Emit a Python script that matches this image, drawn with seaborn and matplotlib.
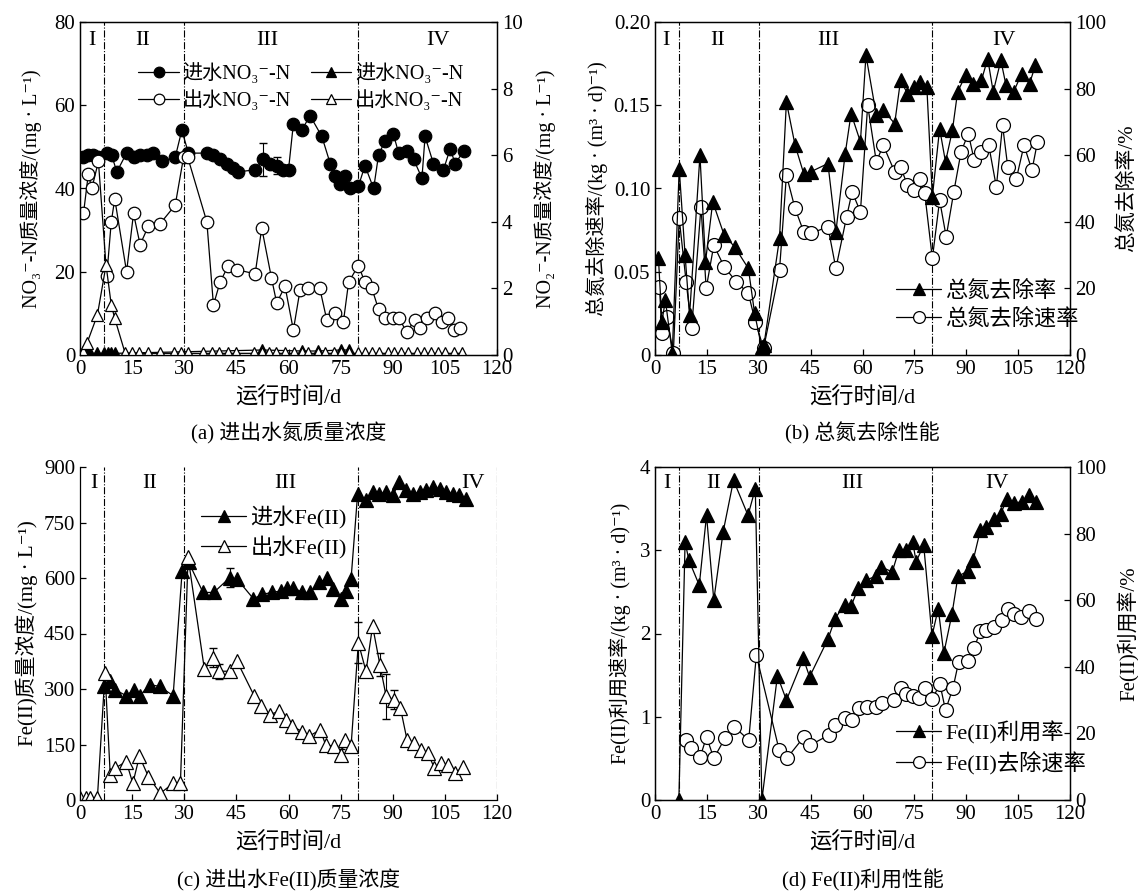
import numpy as np
import matplotlib
matplotlib.use("Agg")
import matplotlib.pyplot as plt
import seaborn as sns

# ---------------- (a) 进出水氮质量浓度 ----------------
a_in_no3_day = [1, 2.4, 3.8, 5.3, 7.7, 9.1, 10.6, 13.4, 15.4, 17.3, 19.2, 21.1, 23.5, 27.4, 29.3,
                31.2, 36.5, 38.4, 40.3, 42.2, 44.1, 45.6, 50.4, 52.8, 54.7, 56.6, 58.5, 60, 61.4,
                63.8, 66.2, 69.6, 72, 73.4, 74.9, 76.3, 77.7, 80.1, 82, 84.5, 85.9, 87.8, 90.2,
                91.7, 94, 96, 98.4, 99.3, 101.7, 104.6, 106.5, 108, 110.4]
a_in_no3 = [47.5, 48, 48, 47.5, 48.5, 48, 44, 48.5, 47.5, 48, 48, 48.5, 46.5, 47.5, 54,
            48.5, 48.5, 48, 47, 46, 45, 44, 44.5, 47, 46, 45.5, 44.5, 44.5, 55.5,
            54, 57.5, 52.5, 46, 43, 41, 43, 40, 40.5, 45.5, 40, 48, 51.5, 53,
            48.5, 49, 47, 42.5, 52.5, 46, 44.5, 49.5, 46, 49]
a_out_no3_day = [1, 2.4, 3.4, 5.3, 7.7, 9, 10, 13.4, 15.4, 17.3, 19.7, 23, 27.4, 29.8, 31,
                 36.5, 38.4, 40.3, 42.7, 45.1, 50.4, 52.3, 55.1, 56.6, 59, 61.4, 63.3, 65.7,
                 69, 71, 73.4, 75.8, 77.3, 80.1, 82, 84, 85.9, 87.8, 90.2, 91.7, 94, 96.4,
                 97.9, 99.8, 102.2, 104.1, 106, 107.5, 109.4]
a_out_no3 = [34, 43.5, 40, 46.5, 19, 32, 37.5, 20, 34, 26.5, 31, 31.5, 36, 47.5, 47.5,
             32, 12, 17.5, 21.5, 20.5, 19.5, 30.5, 18.5, 12.5, 16.5, 6, 15.5, 16,
             16, 8.5, 10, 8, 17.5, 21.5, 17.5, 16, 11, 9, 9, 9, 5.5, 8.5,
             6.5, 9, 10, 8, 9, 6, 6.5]
a_in_no2_day = [1, 2, 3, 5, 7, 8, 9, 10, 52.5, 64, 68.5, 75, 77.5]
a_in_no2 = [0.1, 0.05, 0.05, 0.05, 0.05, 0.05, 0.05, 0.05, 0.15, 0.12, 0.12, 0.15, 0.15]
a_out_no2_day = [1, 2, 5, 7.5, 9, 10, 13, 15, 17, 19.5, 23, 27, 29, 31, 35.5, 38, 40, 42.5, 45,
                 50, 52.5, 54.5, 56.5, 59, 61.5, 64, 65.5, 68.5, 70.5, 73, 75, 77.5, 80, 82,
                 84, 86, 88.5, 90.5, 92.5, 94.5, 97, 99, 101, 103, 105, 107.5, 110]
a_out_no2 = [0.1, 0.35, 1.2, 2.7, 1.5, 1.1, 0.05, 0.05, 0.05, 0.05, 0.05, 0.05, 0.05, 0.05,
             0.05, 0.05, 0.05, 0.05, 0.05, 0.05, 0.05, 0.05, 0.05, 0.05, 0.05, 0.05, 0.05,
             0.05, 0.05, 0.05, 0.05, 0.05, 0.05, 0.05, 0.05, 0.05, 0.05, 0.05, 0.05, 0.05,
             0.05, 0.05, 0.05, 0.05, 0.05, 0.05, 0.05]
# error bars (index into the series, size)
a_in_no3_err_idx = [8, 23, 25, 49]
a_in_no3_err = [1.2, 4.0, 2.0, 1.2]

# ---------------- (b) 总氮去除性能 ----------------
b_rate_day = [1, 2, 3, 5, 7, 8.7, 10, 13, 14.6, 16.7, 20, 23, 27, 28.8, 30.8, 31.5, 36, 38, 40.5,
              43, 45, 50, 52.3, 55, 56.7, 59.4, 61, 64, 66, 69.3, 71, 73, 75, 76.5, 78.6, 80.2,
              82.3, 84, 86, 87.5, 89.8, 92, 94.4, 96.2, 97.8, 100, 101.5, 103.7, 106, 108.3, 110]
b_rate = [29, 10, 16.5, 0.5, 56, 30, 12, 60, 28, 46, 36, 32.5, 26, 12.5, 2.5, 3, 35, 76, 63,
          54.5, 55, 57.5, 37, 60.5, 72.5, 64, 90, 72, 73.5, 69.5, 82.5, 78.5, 80.5, 82, 80.5, 47.5,
          68, 58, 67.5, 79, 84, 81.5, 82.5, 89, 79, 88.5, 81, 79, 84.5, 81.5, 87]
b_speed_day = [1.3, 2, 3.4, 5.3, 7, 9, 10.6, 13.3, 14.8, 17, 20, 23.5, 27, 29, 31.4, 36, 38, 40.5,
               43, 45, 50, 52.3, 55.4, 57, 59.4, 61.5, 64, 66, 69.3, 71, 73, 75, 76.5, 78, 80.2,
               82.3, 84.2, 86.4, 88.5, 90.6, 92.3, 94.4, 96.5, 98.7, 100.5, 102, 104.5, 106.7, 109,
               110.6]
b_speed = [0.041, 0.013, 0.023, 0.001, 0.082, 0.044, 0.016, 0.089, 0.040, 0.066, 0.053, 0.044,
           0.037, 0.020, 0.004, 0.051, 0.108, 0.088, 0.074, 0.073, 0.077, 0.052, 0.083, 0.098,
           0.086, 0.150, 0.116, 0.126, 0.110, 0.113, 0.102, 0.099, 0.106, 0.097, 0.058, 0.093,
           0.071, 0.098, 0.122, 0.133, 0.117, 0.122, 0.126, 0.101, 0.138, 0.113, 0.106, 0.126,
           0.111, 0.128]

# ---------------- (c) 进出水Fe(II)质量浓度 ----------------
c_in_day = [7, 8.7, 10.1, 13.3, 15.4, 17.3, 20, 22.9, 26.8, 29.4, 31.3, 35.4, 38.5, 43.1, 45.2,
            49.9, 52.5, 55.3, 57.7, 59.5, 61.4, 64, 66.2, 68.8, 71.2, 72.7, 75.1, 76.5, 78, 79.9,
            82.3, 84.2, 86.1, 88.1, 90, 91.9, 93.8, 95.8, 97.7, 99.6, 101.5, 103.5, 105.4, 107.3,
            109.2, 111.2]
c_in_fe = [307, 321, 298, 282, 297, 282, 312, 307, 282, 620, 642, 561, 561, 601, 597,
           544, 556, 561, 565, 574, 574, 561, 561, 588, 599, 570, 543, 565, 597, 828,
           810, 832, 828, 832, 823, 859, 837, 828, 832, 837, 846, 841, 832, 828,
           823, 814]
c_out_day = [0, 1.7, 2.9, 5, 7.2, 8.7, 10.1, 13.3, 15.2, 17.1, 19.7, 23.1, 26.8, 28.9, 31.1,
             35.8, 38.3, 40, 43.3, 45.2, 50.2, 52, 54.7, 57.3, 59.2, 61.1, 64, 65.9, 69.1, 70.7,
             73.1, 75.1, 76.3, 78, 80.1, 82.3, 84.2, 86.3, 88.1, 90.3, 92.2, 94.1, 96.1, 98,
             100.1, 102, 103.9, 105.9, 108, 110.2]
c_out_fe = [5, 5, 5, 5, 344, 68, 86, 104, 45, 118, 63, 18, 45, 45, 656,
            353, 385, 348, 348, 375, 280, 253, 231, 240, 217, 199, 185, 172, 190, 149,
            145, 122, 163, 145, 425, 348, 470, 366, 280, 271, 249, 163, 154, 136,
            127, 86, 100, 95, 72, 90]
c_in_err_idx = [13]
c_in_err = [25]
c_out_err_idx = [16, 17, 31, 34, 37, 38, 39]
c_out_err = [25, 20, 15, 55, 30, 60, 25]

# ---------------- (d) Fe(II)利用性能 ----------------
d_use_day = [6.9, 8.7, 9.8, 12.8, 14.9, 17, 19.7, 22.7, 26.9, 29, 30.9, 35.4, 38, 42.9, 44.7,
             50, 52.1, 54.8, 56.7, 58.8, 61, 63.8, 65.4, 68.6, 70.5, 72.7, 74.5, 75.5, 77.7,
             80.1, 81.9, 83.5, 85.9, 87.6, 90.4, 92, 94.1, 95.7, 97.9, 100, 101.8, 103.7, 106.1,
             108, 110.1]
d_use = [0, 77.5, 72, 64.5, 85.5, 60, 80.5, 96, 85.5, 93.5, 0, 37.3, 30, 42.5, 37,
         48.3, 54.5, 58.7, 58.2, 63.7, 66, 67.2, 70, 68.5, 75, 75, 77.6, 71.6, 76.5,
         49.3, 57.5, 44, 56, 67.2, 68.7, 72, 81.1, 82.1, 84.5, 86, 90.5, 89.1, 89.6,
         91.5, 89.6]
d_speed_day = [9, 10.3, 13.1, 14.9, 17, 20.2, 22.9, 27.1, 29.3, 35.9, 38.1, 43.1, 44.9, 50.3,
               52.1, 54.8, 56.9, 59, 61.2, 63.8, 65.6, 69.1, 71.1, 72.7, 74.5, 76.3, 78.2, 80.1,
               82.4, 84, 86.2, 87.8, 90.4, 92.3, 94.1, 95.7, 97.9, 100.3, 102.1, 103.9, 105.9,
               108, 110.1]
d_speed = [0.72, 0.62, 0.52, 0.76, 0.50, 0.74, 0.88, 0.72, 1.74, 0.60, 0.50, 0.76, 0.66, 0.78,
           0.90, 0.98, 0.96, 1.10, 1.12, 1.12, 1.16, 1.20, 1.34, 1.27, 1.25, 1.22, 1.34, 1.21,
           1.39, 1.08, 1.35, 1.66, 1.67, 1.83, 2.03, 2.04, 2.08, 2.16, 2.29, 2.23, 2.20,
           2.27, 2.18]

stage_lines = [7, 30, 80]
stage_names = ["I", "II", "III", "IV"]
days_ticks = np.arange(0, 121, 15)

sns.set_theme(style="ticks")
FONT = ["Liberation Serif", "DejaVu Serif", "Noto Sans CJK SC"]
plt.rcParams["font.family"] = FONT
plt.rcParams.update({
    "font.size": 15,
    "axes.linewidth": 0.9,
    "xtick.direction": "in",
    "ytick.direction": "in",
    "xtick.major.size": 4,
    "ytick.major.size": 4,
    "xtick.major.width": 0.9,
    "ytick.major.width": 0.9,
    "xtick.labelsize": 15,
    "ytick.labelsize": 15,
    "xtick.color": "black",
    "ytick.color": "black",
    "axes.edgecolor": "black",
    "text.color": "black",
    "axes.labelcolor": "black",
})


def series(ax, x, y, marker, filled, ms=9):
    sns.lineplot(x=x, y=y, ax=ax, color="black", linewidth=0.9, marker=marker,
                 markersize=ms, markerfacecolor="black" if filled else "white",
                 markeredgecolor="black", markeredgewidth=0.9,
                 estimator=None, sort=False, errorbar=None, legend=False)
    return ax.lines[-1]


def errbars(ax, x, y, idx, err):
    ax.errorbar([x[i] for i in idx], [y[i] for i in idx], yerr=err, fmt="none",
                ecolor="black", elinewidth=0.8, capsize=3, zorder=1)


def frame(ax, stage_x, stage_y, ylim, yticks):
    ax.set_xlim(0, 120)
    ax.set_xticks(days_ticks)
    ax.set_ylim(*ylim)
    ax.set_yticks(yticks)
    ax.set_xlabel("运行时间/d", fontsize=16, labelpad=6)
    for d in stage_lines:
        ax.axvline(d, color="black", linestyle="-.", linewidth=0.8, zorder=0)
    for xs, name in zip(stage_x, stage_names):
        ax.text(xs, stage_y, name, transform=ax.get_xaxis_transform(),
                ha="center", va="center", fontsize=16)


def legend(ax, handles, labels, fontsize=16, **kw):
    leg = ax.legend(handles, labels, frameon=False, handlelength=2.0, handletextpad=0.2,
                    labelspacing=0.3, markerscale=0.85, fontsize=fontsize, borderaxespad=0,
                    **kw)
    return leg


fig = plt.figure(figsize=(11.38, 8.94), dpi=100)
W, H = 1138, 894
pos = {
    "a": [80 / W, 1 - 355 / H, 417 / W, 333 / H],
    "b": [655 / W, 1 - 355 / H, 415 / W, 333 / H],
    "c": [80 / W, 1 - 800 / H, 417 / W, 333 / H],
    "d": [655 / W, 1 - 800 / H, 415 / W, 333 / H],
}

# ---- panel a ----
ax = fig.add_axes(pos["a"])
axr = ax.twinx()
frame(ax, [3.5, 18, 54, 103], 0.945, (0, 80), np.arange(0, 81, 20))
errbars(ax, a_in_no3_day, a_in_no3, a_in_no3_err_idx, a_in_no3_err)
h1 = series(ax, a_in_no3_day, a_in_no3, "o", True)
h2 = series(ax, a_out_no3_day, a_out_no3, "o", False)
h3 = series(axr, a_in_no2_day, a_in_no2, "^", True)
h4 = series(axr, a_out_no2_day, a_out_no2, "^", False)
axr.set_ylim(0, 10)
axr.set_yticks(np.arange(0, 11, 2))
ax.set_ylabel("NO₃⁻-N质量浓度/(mg · L⁻¹)", fontsize=14.5, labelpad=9)
axr.set_ylabel("NO₂⁻-N质量浓度/(mg · L⁻¹)", fontsize=14.5, rotation=90, labelpad=8)
legend(axr, [h1, h2, h3, h4], ["进水NO₃⁻-N", "出水NO₃⁻-N", "进水NO₃⁻-N", "出水NO₃⁻-N"],
       fontsize=14.5, ncol=2, columnspacing=1.0, loc="upper center",
       bbox_to_anchor=(0.53, 0.9))
fig.text((80 + 417 / 2) / W, 1 - 433 / H, "(a) 进出水氮质量浓度", ha="center", va="center",
         fontsize=15)

# ---- panel b ----
ax = fig.add_axes(pos["b"])
axr = ax.twinx()
frame(ax, [3.2, 18, 50, 101], 0.945, (0, 0.20), np.arange(0, 0.201, 0.05))
ax.set_yticklabels(["0", "0.05", "0.10", "0.15", "0.20"])
h2 = series(ax, b_speed_day, b_speed, "o", False, ms=10)
h1 = series(axr, b_rate_day, b_rate, "^", True, ms=10)
axr.set_ylim(0, 100)
axr.set_yticks(np.arange(0, 101, 20))
ax.set_ylabel("总氮去除速率/(kg · (m³ · d)⁻¹)", fontsize=14.5, labelpad=4)
axr.set_ylabel("总氮去除率/%", fontsize=15, rotation=90, labelpad=8)
legend(axr, [h1, h2], ["总氮去除率", "总氮去除速率"], loc="lower left",
       bbox_to_anchor=(0.56, 0.05))
fig.text((655 + 415 / 2) / W, 1 - 433 / H, "(b) 总氮去除性能", ha="center", va="center",
         fontsize=15)

# ---- panel c ----
ax = fig.add_axes(pos["c"])
frame(ax, [4, 20, 59, 113], 0.95, (0, 900), np.arange(0, 901, 150))
ax.axvline(120, color="black", linestyle="-.", linewidth=0.8, zorder=0)
ax.spines["top"].set_visible(False)
ax.spines["right"].set_visible(False)
errbars(ax, c_in_day, c_in_fe, c_in_err_idx, c_in_err)
errbars(ax, c_out_day, c_out_fe, c_out_err_idx, c_out_err)
h1 = series(ax, c_in_day, c_in_fe, "^", True, ms=10)
h2 = series(ax, c_out_day, c_out_fe, "^", False, ms=10)
ax.set_ylabel("Fe(II)质量浓度/(mg · L⁻¹)", fontsize=15, labelpad=4)
legend(ax, [h1, h2], ["进水Fe(II)", "出水Fe(II)"], loc="upper left",
       bbox_to_anchor=(0.27, 0.91))
fig.text((80 + 417 / 2) / W, 1 - 880 / H, "(c) 进出水Fe(II)质量浓度", ha="center",
         va="center", fontsize=15)

# ---- panel d ----
ax = fig.add_axes(pos["d"])
axr = ax.twinx()
frame(ax, [3.5, 17, 57, 99], 0.95, (0, 4), np.arange(0, 5, 1))
h2 = series(ax, d_speed_day, d_speed, "o", False, ms=10)
h1 = series(axr, d_use_day, d_use, "^", True, ms=10)
axr.set_ylim(0, 100)
axr.set_yticks(np.arange(0, 101, 20))
ax.set_ylabel("Fe(II)利用速率/(kg · (m³ · d)⁻¹)", fontsize=14.5, labelpad=6)
axr.set_ylabel("Fe(II)利用率/%", fontsize=15, rotation=90, labelpad=8)
legend(axr, [h1, h2], ["Fe(II)利用率", "Fe(II)去除速率"], loc="lower left",
       bbox_to_anchor=(0.56, 0.05))
fig.text((655 + 415 / 2) / W, 1 - 880 / H, "(d) Fe(II)利用性能", ha="center", va="center",
         fontsize=15)

fig.savefig("out.png", dpi=100)
